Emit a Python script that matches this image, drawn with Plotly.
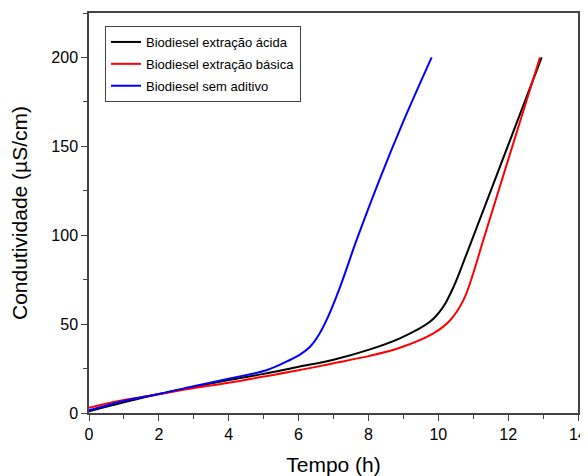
import plotly.graph_objects as go

# Data
t_acida = [0, 1, 2, 3, 4, 5, 6, 7, 8, 8.9, 9.76, 10.14, 10.45, 10.85, 12.96]
v_acida = [1, 6, 10.7, 14.7, 18.5, 22, 26, 30, 35.5, 42, 51.3, 59.7, 71.5, 91.5, 200]

t_basica = [0, 1, 2, 3, 4, 5, 6, 7, 8, 8.9, 9.86, 10.34, 10.72, 11.0, 11.3, 12.91]
v_basica = [3, 7.3, 10.6, 14, 17, 20.5, 24, 28, 32, 36.7, 44.8, 52.2, 63.5, 78.5, 98, 200]

t_sem = [0, 1, 2, 3, 4, 5.1, 5.75, 6.05, 6.33, 6.55, 6.8, 7.19, 7.66, 8.31, 9.0, 9.81]
v_sem = [1.5, 6.8, 10.7, 15, 19.3, 24.2, 29.8, 33, 37.3, 43, 52.2, 71, 97.2, 130.9, 164, 200]

names = ["Biodiesel extração ácida", "Biodiesel extração básica", "Biodiesel sem aditivo"]
colors = ["#000000", "#ff0000", "#0000ff"]

fig = go.Figure()
for i, (x, y) in enumerate([(t_acida, v_acida), (t_basica, v_basica), (t_sem, v_sem)]):
    fig.add_trace(go.Scatter(x=x, y=y, mode="lines", name=names[i],
                             line=dict(color=colors[i], width=2, shape="spline", smoothing=1.0),
                             legendgroup=str(i)))

font = "Arial, Liberation Sans, sans-serif"
axcol = "#444444"
# page body has an 8px default margin, so the figure is sized/offset to compensate
fig.update_layout(
    width=580, height=468,
    margin=dict(l=81, r=10, t=5, b=63),
    plot_bgcolor="white", paper_bgcolor="white",
    font=dict(family=font, color="#000000"),
    showlegend=True,
    legend=dict(x=0.0327, y=0.9675, xanchor="left", yanchor="top",
                bordercolor=axcol, borderwidth=1, bgcolor="white",
                font=dict(size=13, family=font), traceorder="grouped", tracegroupgap=2),
    xaxis=dict(range=[0, 14], dtick=2, ticks="outside", ticklen=6, tickcolor=axcol,
               showline=True, linecolor=axcol, linewidth=1.5, mirror=True, showgrid=False,
               zeroline=False, tickfont=dict(size=16), automargin=False,
               minor=dict(dtick=1, ticks="outside", ticklen=4, tickcolor=axcol),
               title=dict(text="Tempo (h)", font=dict(size=21), standoff=15)),
    yaxis=dict(range=[0, 225], dtick=50, ticks="outside", ticklen=6, tickcolor=axcol,
               showline=True, linecolor=axcol, linewidth=1.5, mirror=True, showgrid=False,
               zeroline=False, tickfont=dict(size=16), automargin=False,
               minor=dict(dtick=25, ticks="outside", ticklen=4, tickcolor=axcol),
               title=dict(text="Condutividade (µS/cm)", font=dict(size=21), standoff=22)),
)
fig.write_html("out.html")
